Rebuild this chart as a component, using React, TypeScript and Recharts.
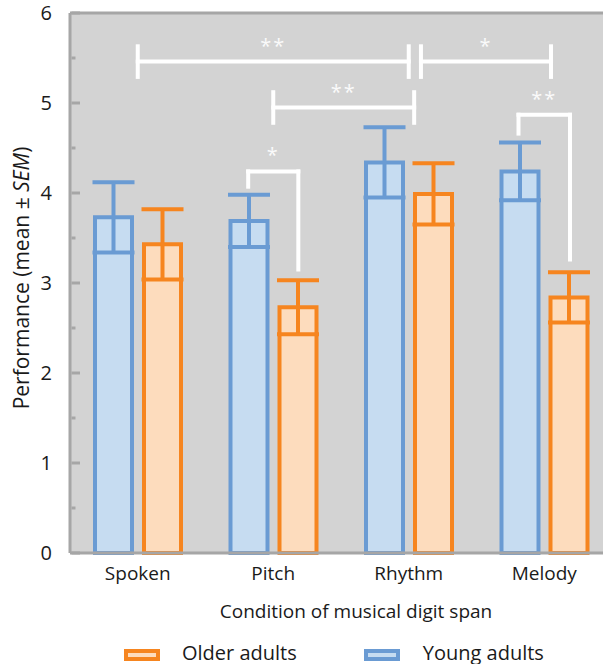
import React from "react";
import {
  BarChart,
  Bar,
  XAxis,
  YAxis,
  CartesianGrid,
  ErrorBar,
  ReferenceLine,
  Legend,
} from "recharts";

const categories = ["Spoken", "Pitch", "Rhythm", "Melody"];
const youngMean = [3.73, 3.69, 4.34, 4.24];
const youngSem = [0.39, 0.29, 0.39, 0.32];
const olderMean = [3.43, 2.73, 3.99, 2.84];
const olderSem = [0.39, 0.3, 0.34, 0.28];
const yTicks = [0, 0.5, 1, 1.5, 2, 2.5, 3, 3.5, 4, 4.5, 5, 5.5, 6];

// significance brackets, x in category widths (0..4), y in performance units
const spanBrackets = [
  { from: 0.5, to: 2.5, y: 5.46, label: "**" },
  { from: 2.59, to: 3.55, y: 5.46, label: "*" },
  { from: 1.5, to: 2.54, y: 4.95, label: "**" },
];
const elbowBrackets = [
  { from: 1.315, to: 1.685, y: 4.24, fromEnd: 4.07, toEnd: 3.15, label: "*" },
  { from: 3.31, to: 3.69, y: 4.87, fromEnd: 4.66, toEnd: 3.26, label: "**" },
];

const data = categories.map((name, i) => ({
  name,
  young: youngMean[i],
  youngSem: youngSem[i],
  older: olderMean[i],
  olderSem: olderSem[i],
}));

const BLUE = "#6a9bd3";
const BLUE_FILL = "#c6dcf1";
const ORANGE = "#f6851f";
const ORANGE_FILL = "#fddcbd";
const AXIS = "#a6a6a6";
const BG = "#d3d3d3";
const SIG = "#ffffff";
const TEXT = "#1a1a1a";

// the hidden numeric axis spans the plot with domain [0, n-1]
const n = categories.length;
const toAxis = (u: number) => (u * (n - 1)) / n;

type Seg = { x1: number; y1: number; x2: number; y2: number; label?: string };

const segments: Seg[] = [];
spanBrackets.forEach((b) => {
  segments.push({ x1: b.from, y1: b.y, x2: b.to, y2: b.y, label: b.label });
  segments.push({ x1: b.from, y1: b.y - 0.17, x2: b.from, y2: b.y + 0.17 });
  segments.push({ x1: b.to, y1: b.y - 0.17, x2: b.to, y2: b.y + 0.17 });
});
elbowBrackets.forEach((b) => {
  segments.push({ x1: b.from, y1: b.y, x2: b.to, y2: b.y, label: b.label });
  segments.push({ x1: b.from, y1: b.fromEnd, x2: b.from, y2: b.y });
  segments.push({ x1: b.to, y1: b.toEnd, x2: b.to, y2: b.y });
});

function YTick(props: any) {
  const { x, y, payload } = props;
  const v = payload.value;
  const major = Number.isInteger(v);
  const axisX = x + 8;
  return (
    <g>
      <line
        x1={axisX + 1.5}
        x2={axisX + (major ? 10 : 5.5)}
        y1={y}
        y2={y}
        stroke={AXIS}
        strokeWidth={3}
      />
      {major && (
        <text x={x - 10} y={y} dy="0.36em" textAnchor="end" fontSize={20} fill={TEXT}>
          {v}
        </text>
      )}
    </g>
  );
}

function YTitle(props: any) {
  const { viewBox } = props;
  const cx = viewBox.x + 11;
  const cy = viewBox.y + viewBox.height / 2 - 5;
  return (
    <text
      x={cx}
      y={cy}
      transform={`rotate(-90 ${cx} ${cy})`}
      textAnchor="middle"
      dominantBaseline="central"
      fontSize={21}
      fill={TEXT}
    >
      Performance (mean ± <tspan fontStyle="italic">SEM</tspan>)
    </text>
  );
}

function XTitle(props: any) {
  const { viewBox } = props;
  return (
    <text
      x={viewBox.x + viewBox.width / 2 + 15}
      y={618}
      textAnchor="middle"
      fontSize={19}
      fill={TEXT}
    >
      Condition of musical digit span
    </text>
  );
}

function Swatch({ stroke, fill }: { stroke: string; fill: string }) {
  return (
    <span
      style={{
        display: "inline-block",
        boxSizing: "border-box",
        width: 36,
        height: 12,
        border: `4px solid ${stroke}`,
        background: fill,
        marginTop: 5,
      }}
    />
  );
}

function LegendContent() {
  return (
    <div
      style={{
        display: "flex",
        alignItems: "center",
        height: 24,
        paddingLeft: 114,
        fontSize: 20,
        color: TEXT,
      }}
    >
      <Swatch stroke={ORANGE} fill={ORANGE_FILL} />
      <span style={{ marginLeft: 22 }}>Older adults</span>
      <span style={{ marginLeft: 67, display: "flex" }}>
        <Swatch stroke={BLUE} fill={BLUE_FILL} />
      </span>
      <span style={{ marginLeft: 23 }}>Young adults</span>
    </div>
  );
}

export default function App() {
  return (
    <div
      style={{
        position: "absolute",
        left: 0,
        top: 0,
        width: 603,
        height: 664,
        overflow: "hidden",
        background: "#fff",
        fontFamily: '"Open Sans", sans-serif',
      }}
    >
      <BarChart
        width={620}
        height={664}
        data={data}
        margin={{ top: 13, right: 8, left: 10, bottom: 0 }}
        barSize={37}
        barGap={12}
      >
        <CartesianGrid fill={BG} horizontal={false} vertical={false} />
        <XAxis
          dataKey="name"
          height={87}
          tickLine={false}
          tickMargin={8}
          tick={{ fontSize: 19, fill: TEXT }}
          axisLine={{ stroke: AXIS, strokeWidth: 3 }}
          label={<XTitle />}
        />
        <XAxis xAxisId="num" type="number" domain={[0, n - 1]} allowDataOverflow hide />
        <YAxis
          width={60}
          domain={[0, 6]}
          ticks={yTicks}
          interval={0}
          tickLine={false}
          tick={<YTick />}
          axisLine={{ stroke: AXIS, strokeWidth: 3 }}
          label={<YTitle />}
        />
        <ReferenceLine y={6} stroke={AXIS} strokeWidth={3} />
        <Bar
          dataKey="young"
          name="Young adults"
          fill={BLUE_FILL}
          stroke={BLUE}
          strokeWidth={4}
          isAnimationActive={false}
        >
          <ErrorBar
            dataKey="youngSem"
            width={21}
            strokeWidth={4}
            stroke={BLUE}
            isAnimationActive={false}
          />
        </Bar>
        <Bar
          dataKey="older"
          name="Older adults"
          fill={ORANGE_FILL}
          stroke={ORANGE}
          strokeWidth={4}
          isAnimationActive={false}
        >
          <ErrorBar
            dataKey="olderSem"
            width={21}
            strokeWidth={4}
            stroke={ORANGE}
            isAnimationActive={false}
          />
        </Bar>
        {segments.map((s, i) => (
          <ReferenceLine
            key={i}
            xAxisId="num"
            segment={[
              { x: toAxis(s.x1), y: s.y1 },
              { x: toAxis(s.x2), y: s.y2 },
            ]}
            stroke={SIG}
            strokeWidth={4}
            strokeLinecap="square"
            ifOverflow="visible"
            label={
              s.label
                ? {
                    value: s.label,
                    position: "top",
                    offset: 9,
                    fill: "#fafafa",
                    fontSize: 20,
                    letterSpacing: 2,
                  }
                : undefined
            }
          />
        ))}
        <Legend verticalAlign="bottom" content={<LegendContent />} />
      </BarChart>
    </div>
  );
}
